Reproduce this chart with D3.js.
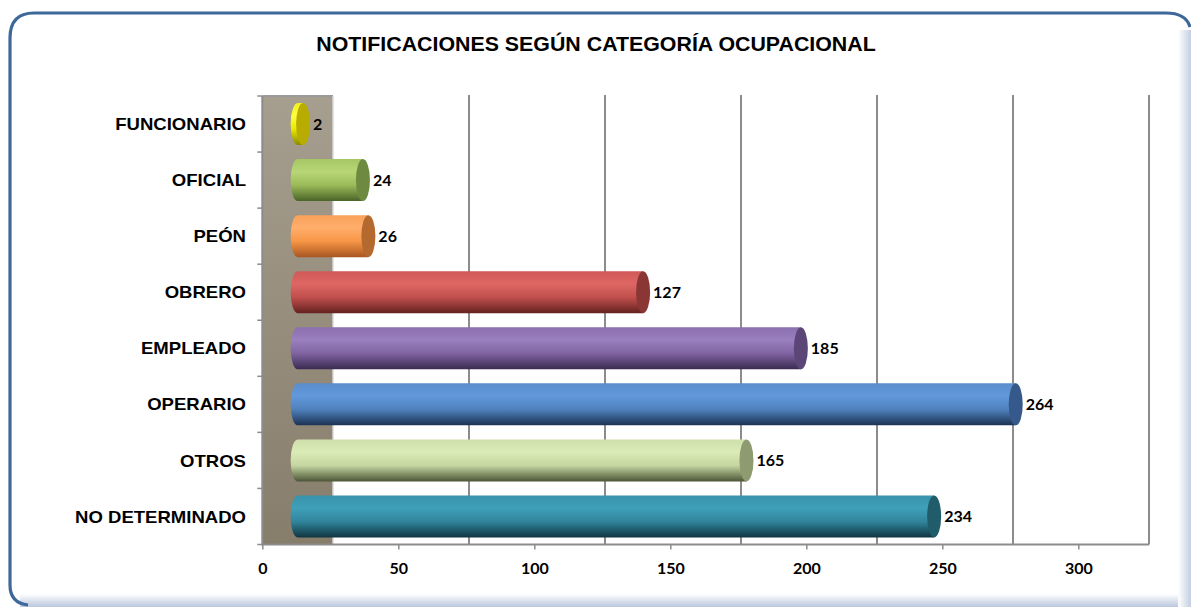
<!DOCTYPE html>
<html>
<head>
<meta charset="utf-8">
<script src="https://cdn.jsdelivr.net/npm/d3@7"></script>
<style>
  html, body { margin: 0; padding: 0; background: #ffffff; }
  svg { display: block; }
</style>
</head>
<body>
<svg id="chart" width="1191" height="607"></svg>
<script>
// ---------- data ----------
const categories = ["FUNCIONARIO", "OFICIAL", "PEÓN", "OBRERO", "EMPLEADO", "OPERARIO", "OTROS", "NO DETERMINADO"];
const values = [2, 24, 26, 127, 185, 264, 165, 234];
const tickValues = [0, 50, 100, 150, 200, 250, 300];
const titleText = "NOTIFICACIONES SEGÚN CATEGORÍA OCUPACIONAL";

// ---------- styles ----------
// [top, light, mid, dark, cap]
const barColors = [
  ["#f0f020", "#ffff40", "#e8e800", "#8a8a00", "#b8ac00"],
  ["#a6c664", "#b8d676", "#9bbb59", "#4a6328", "#6e8a40"],
  ["#f9a15a", "#ffae6c", "#f79646", "#a85622", "#b4692e"],
  ["#cf5956", "#de6764", "#c0504d", "#642120", "#8a3634"],
  ["#8b6fae", "#9a80bf", "#8064a2", "#3a2a50", "#5c4678"],
  ["#5a8dcb", "#6299dc", "#4f81bd", "#1b3152", "#34598a"],
  ["#cfdfab", "#dbebb8", "#c5d6a0", "#4c5637", "#8e9a70"],
  ["#3892aa", "#3fa0ba", "#31859c", "#103540", "#215c6b"]
];
const stretch = 1.09; // reference text is slightly widened

function widen(sel, factor) {
  sel.each(function () {
    const w = this.getComputedTextLength();
    d3.select(this).attr("textLength", w * factor).attr("lengthAdjust", "spacingAndGlyphs");
  });
}

const svg = d3.select("#chart");
const defs = svg.append("defs");

// ---------- frame ----------
const shadowB = defs.append("linearGradient").attr("id", "shB").attr("x1", 0).attr("y1", 0).attr("x2", 0).attr("y2", 1);
shadowB.append("stop").attr("offset", 0).attr("stop-color", "#ffffff");
shadowB.append("stop").attr("offset", 1).attr("stop-color", "#b9c6dc");
const shadowR = defs.append("linearGradient").attr("id", "shR").attr("x1", 0).attr("y1", 0).attr("x2", 1).attr("y2", 0);
shadowR.append("stop").attr("offset", 0).attr("stop-color", "#ffffff");
shadowR.append("stop").attr("offset", 1).attr("stop-color", "#c3cfe2");

svg.append("rect").attr("x", 20).attr("y", 594).attr("width", 1171).attr("height", 13).attr("fill", "url(#shB)");
svg.append("rect").attr("x", 1178).attr("y", 30).attr("width", 13).attr("height", 577).attr("fill", "url(#shR)");

svg.append("path")
  .attr("d", "M10,585 L10,38 Q10,13 34,13 L1166,13 Q1186,13 1190,27")
  .attr("fill", "none").attr("stroke", "#3d6899").attr("stroke-width", 3.2);
svg.append("path")
  .attr("d", "M10,585 Q10,603 28,605")
  .attr("fill", "none").attr("stroke", "#3d6899").attr("stroke-width", 3.2);

// ---------- title ----------
svg.append("text")
  .attr("x", 596).attr("y", 51)
  .attr("text-anchor", "middle")
  .attr("font-family", "'Liberation Sans', Arial, sans-serif")
  .attr("font-weight", "bold").attr("font-size", 19.5)
  .attr("fill", "#000")
  .text(titleText)
  .call(widen, 1.095);

// ---------- scales ----------
const x = d3.scaleLinear().domain([0, 300]).range([262.3, 1078.3]);
const depthDx = 70.7;               // oblique shift from front to back wall
const midDx = depthDx / 2;          // bars sit at mid-depth
const y = d3.scaleBand().domain(categories).range([96, 544.5]).paddingInner(0.25).paddingOuter(0.125);

const yTop = y.range()[0], yBot = y.range()[1];

// ---------- side wall ----------
const wallG = defs.append("linearGradient").attr("id", "wallG").attr("x1", 0).attr("y1", 0).attr("x2", 0).attr("y2", 1);
wallG.append("stop").attr("offset", 0).attr("stop-color", "#a69e8f");
wallG.append("stop").attr("offset", 1).attr("stop-color", "#877d6b");
svg.append("rect")
  .attr("x", x(0)).attr("y", yTop)
  .attr("width", depthDx).attr("height", yBot - yTop)
  .attr("fill", "url(#wallG)");
svg.append("line")
  .attr("x1", x(0)).attr("x2", x(0) + depthDx).attr("y1", yTop).attr("y2", yTop)
  .attr("stroke", "#9a9a9a").attr("stroke-width", 2);
svg.append("line")
  .attr("x1", x(0) + depthDx).attr("x2", x(0) + depthDx).attr("y1", yTop).attr("y2", yBot)
  .attr("stroke", "#d8d8d8").attr("stroke-width", 1.5);

// ---------- back wall gridlines ----------
svg.append("g").selectAll("line")
  .data(tickValues.filter(v => v > 0))
  .join("line")
  .attr("x1", d => x(d) + depthDx).attr("x2", d => x(d) + depthDx)
  .attr("y1", yTop - 1).attr("y2", yBot)
  .attr("stroke", "#8c8c8c").attr("stroke-width", 2);

// ---------- bottom axis ----------
const xAxis = d3.axisBottom(x).tickValues(tickValues).tickSize(5).tickPadding(13).tickSizeOuter(0);
const gx = svg.append("g").attr("transform", `translate(0,${yBot})`).call(xAxis);
gx.select(".domain").remove();
gx.selectAll(".tick line").attr("stroke", "#8c8c8c").attr("stroke-width", 1.5);
gx.selectAll(".tick text")
  .attr("font-family", "Lato, 'Open Sans', sans-serif")
  .attr("font-weight", "bold").attr("font-size", 16).attr("fill", "#000");
svg.append("line")
  .attr("x1", x(0)).attr("x2", x(300) + depthDx).attr("y1", yBot).attr("y2", yBot)
  .attr("stroke", "#8c8c8c").attr("stroke-width", 2);

// ---------- left axis ----------
svg.append("line")
  .attr("x1", x(0)).attr("x2", x(0)).attr("y1", yTop).attr("y2", yBot + 1)
  .attr("stroke", "#8c8c8c").attr("stroke-width", 2);
const boundaries = d3.range(categories.length + 1).map(i => yTop + i * y.step());
svg.append("g").selectAll("line")
  .data(boundaries)
  .join("line")
  .attr("x1", x(0) - 5).attr("x2", x(0))
  .attr("y1", d => d).attr("y2", d => d)
  .attr("stroke", "#8c8c8c").attr("stroke-width", 1.5);

svg.append("g").selectAll("text")
  .data(categories)
  .join("text")
  .attr("x", 246)
  .attr("y", d => y(d) + y.bandwidth() / 2)
  .attr("dy", "0.36em")
  .attr("text-anchor", "end")
  .attr("font-family", "'Liberation Sans', Arial, sans-serif")
  .attr("font-weight", "bold").attr("font-size", 17)
  .attr("fill", "#000")
  .text(d => d)
  .call(widen, stretch);

// ---------- bars (cylinders) ----------
categories.forEach((c, i) => {
  const g = defs.append("linearGradient").attr("id", "bg" + i)
    .attr("x1", 0).attr("y1", 0).attr("x2", 0).attr("y2", 1);
  const col = barColors[i];
  g.append("stop").attr("offset", 0).attr("stop-color", col[0]);
  g.append("stop").attr("offset", 0.3).attr("stop-color", col[1]);
  g.append("stop").attr("offset", 0.62).attr("stop-color", col[2]);
  g.append("stop").attr("offset", 1).attr("stop-color", col[3]);
});

const rx = 7;
const bars = svg.append("g").selectAll("g")
  .data(categories.map((c, i) => ({ c, v: values[i], i })))
  .join("g");

bars.append("path")
  .attr("d", d => {
    const x0 = x(0) + midDx, x1 = x(d.v) + midDx;
    const t = y(d.c), h = y.bandwidth(), b = t + h, r = h / 2;
    return `M${x0},${t} L${x1},${t} L${x1},${b} L${x0},${b} A${rx},${r} 0 0 1 ${x0},${t} Z`;
  })
  .attr("fill", d => `url(#bg${d.i})`);

bars.append("ellipse")
  .attr("cx", d => x(d.v) + midDx)
  .attr("cy", d => y(d.c) + y.bandwidth() / 2)
  .attr("rx", rx)
  .attr("ry", y.bandwidth() / 2)
  .attr("fill", d => barColors[d.i][4]);

bars.append("text")
  .attr("x", d => x(d.v) + midDx + rx + 3)
  .attr("y", d => y(d.c) + y.bandwidth() / 2)
  .attr("dy", "0.36em")
  .attr("font-family", "Lato, 'Open Sans', sans-serif")
  .attr("font-weight", "bold").attr("font-size", 16)
  .attr("fill", "#000")
  .text(d => d.v);
</script>
</body>
</html>
